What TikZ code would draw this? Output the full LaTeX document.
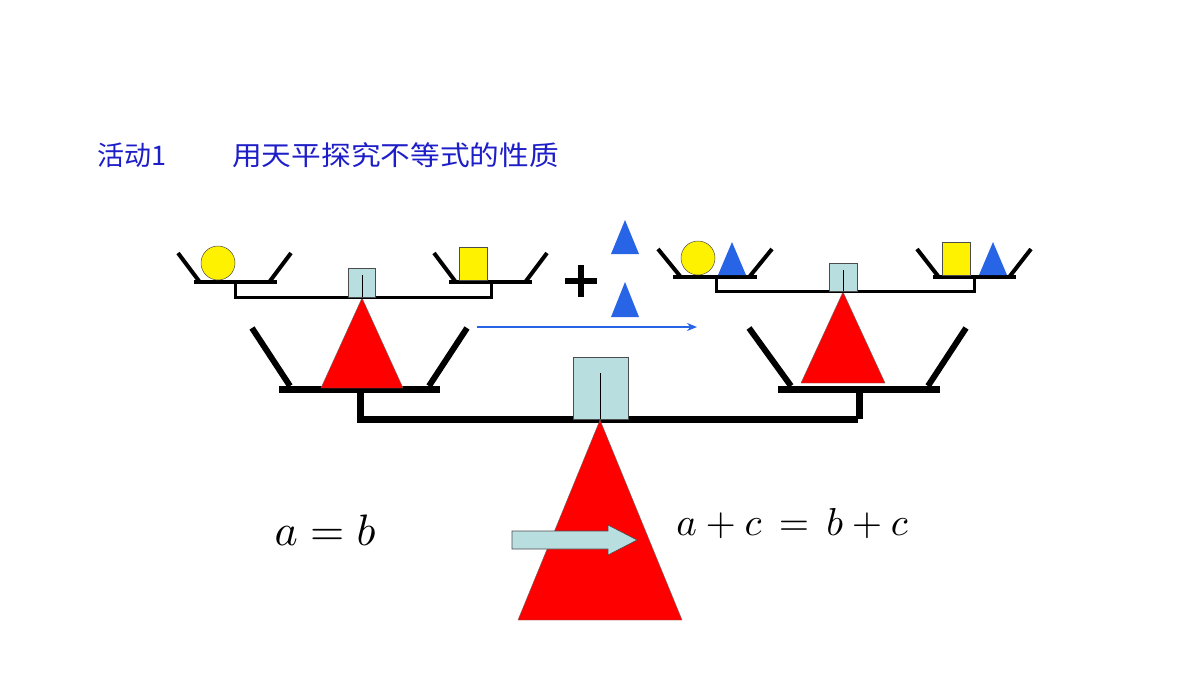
\documentclass[tikz,border=0pt]{standalone}
\usepackage{fontspec}
\newfontfamily\cjk{Noto Sans CJK SC}
\usetikzlibrary{arrows.meta}
\definecolor{tblue}{RGB}{30,30,200}
\definecolor{lb}{RGB}{185,222,224}
\definecolor{tb}{RGB}{40,100,230}
\begin{document}
\begin{tikzpicture}[x=1pt,y=-1pt,
 bar/.style={line width=4pt},
 bbar/.style={line width=7pt},
 thin/.style={line width=3pt},
 red/.style={fill=red,draw=black!60,line width=0.4pt},
 box/.style={fill=lb,draw=black!70,line width=0.6pt},
 yel/.style={fill=yellow,draw=black!70,line width=0.5pt},
 blu/.style={fill=tb}]
\useasboundingbox (0,0) rectangle (1200,675);
\node[anchor=west,text=tblue,font=\cjk\fontsize{27}{29}\selectfont,inner xsep=0pt] (t1) at (97,155) {活动1};
\node[anchor=west,text=tblue,font=\cjk\fontsize{27}{29}\selectfont,inner xsep=0pt,xscale=1.1] (t2) at (232,155) {用天平探究不等式的性质};
% big balance
\draw[bbar] (357,419) -- (858,419);
\draw[bbar] (360,389) -- (360,419);
\draw[bbar] (859,389) -- (859,419);
\draw[box] (573,357) rectangle (628,419);
\draw[line width=0.6pt] (600,373) -- (600,419);
\draw[red] (600,420) -- (682,620) -- (518,620) -- cycle;
% left lower pan
\draw[bbar] (279,389) -- (440,389);
\draw[line width=6pt] (252,328) -- (290,386) (467,328) -- (429,386);
\draw[red] (362,298) -- (403,388) -- (321,388) -- cycle;
% left small balance
\draw[bar] (194,282) -- (277,282) (449,282) -- (532,282);
\draw[bar] (178,253) -- (199,281) (291,253) -- (270,281) (434,253) -- (455,281) (547,253) -- (526,281);
\draw[thin] (235,282) -- (235,297) -- (491,297) -- (491,282);
\draw[box] (348,268) rectangle (375,297);
\draw[line width=0.6pt] (362,275) -- (362,297);
\draw[yel] (218,263) circle (17);
\draw[yel] (459,247) rectangle (487,280);
% plus and triangles
\coordinate (plus) at (581,281);
\draw[line width=6pt] ([xshift=-16]plus) -- ([xshift=16]plus) ([yshift=-16]plus) -- ([yshift=16]plus);
\fill[blu] (625,220) -- (639,254) -- (611,254) -- cycle;
\fill[blu] (625,282) -- (639,317) -- (611,317) -- cycle;
\draw[tb,line width=2.5pt,-{Stealth[length=10pt,width=8pt]}] (477,327) -- (697,327);
% right lower pan
\draw[bbar] (778,389) -- (940,389);
\draw[line width=6pt] (749,328) -- (791,386) (966,328) -- (928,386);
\draw[red] (843,292) -- (885,383) -- (801,383) -- cycle;
% right small balance
\draw[bar] (673,277) -- (757,277) (933,277) -- (1016,277);
\draw[bar] (658,249) -- (680,276) (772,249) -- (750,276) (917,249) -- (938,276) (1031,249) -- (1010,276);
\draw[thin] (716,277) -- (716,291) -- (974,291) -- (974,277);
\draw[box] (829,263) rectangle (857,291);
\draw[line width=0.6pt] (843,270) -- (843,291);
\draw[yel] (698,258) circle (17);
\fill[blu] (732,242) -- (746,275) -- (718,275) -- cycle;
\draw[yel] (942,242) rectangle (970,275);
\fill[blu] (993,242) -- (1007,275) -- (979,275) -- cycle;
% formulas
\node (f1) at (325,530) {\scalebox{4.4}{$a=b$}};
\node (f2) at (792,524) {\scalebox{3.9}{$a+c\,=\,b+c$}};
\draw[box] (512,531) -- (608,531) -- (608,525) -- (637,540) -- (608,555) -- (608,549) -- (512,549) -- cycle;
\end{tikzpicture}
\end{document}
